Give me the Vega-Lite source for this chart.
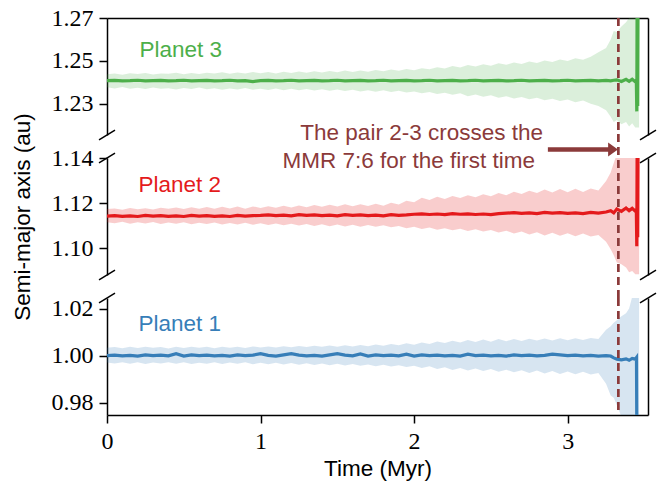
{
"$schema": "https://vega.github.io/schema/vega-lite/v6.json",
"background": "white",
"padding": {"left": 11, "top": 6, "right": 10, "bottom": 5},
"spacing": 23,
"bounds": "flush",
"config": {
 "view": {"stroke": null},
 "axis": {"labelFont": "Liberation Serif", "labelFontSize": 24, "labelColor": "#000", "tickColor": "#000", "domainColor": "#000", "tickWidth": 1.5, "domainWidth": 1.5, "tickSize": 8, "labelPadding": 6, "titleFont": "Liberation Sans", "titleFontSize": 22.5, "titleFontWeight": "normal", "titleColor": "#000", "grid": false, "labelOverlap": false, "labelFlush": false},
 "text": {"font": "Liberation Sans", "fontSize": 22.5}
},
"datasets": {
"g": [
{"t":0.00,"m":1.2408,"lo":1.2377,"hi":1.2438},{"t":0.05,"m":1.2409,"lo":1.2372,"hi":1.2441},{"t":0.10,"m":1.2407,"lo":1.2379,"hi":1.2436},{"t":0.15,"m":1.2408,"lo":1.2370,"hi":1.2443},{"t":0.20,"m":1.2410,"lo":1.2375,"hi":1.2439},{"t":0.25,"m":1.2407,"lo":1.2369,"hi":1.2444},{"t":0.30,"m":1.2408,"lo":1.2376,"hi":1.2437},{"t":0.35,"m":1.2409,"lo":1.2371,"hi":1.2442},{"t":0.40,"m":1.2407,"lo":1.2373,"hi":1.2440},{"t":0.45,"m":1.2408,"lo":1.2367,"hi":1.2445},{"t":0.50,"m":1.2410,"lo":1.2374,"hi":1.2438},{"t":0.55,"m":1.2407,"lo":1.2369,"hi":1.2444},{"t":0.60,"m":1.2408,"lo":1.2376,"hi":1.2439},{"t":0.65,"m":1.2409,"lo":1.2368,"hi":1.2445},{"t":0.70,"m":1.2407,"lo":1.2373,"hi":1.2441},{"t":0.75,"m":1.2408,"lo":1.2366,"hi":1.2447},{"t":0.80,"m":1.2410,"lo":1.2372,"hi":1.2440},{"t":0.85,"m":1.2407,"lo":1.2367,"hi":1.2446},{"t":0.90,"m":1.2408,"lo":1.2374,"hi":1.2442},{"t":0.95,"m":1.2404,"lo":1.2366,"hi":1.2448},
{"t":1.00,"m":1.2408,"lo":1.2371,"hi":1.2443},{"t":1.05,"m":1.2409,"lo":1.2365,"hi":1.2449},{"t":1.10,"m":1.2407,"lo":1.2372,"hi":1.2442},{"t":1.15,"m":1.2408,"lo":1.2364,"hi":1.2450},{"t":1.20,"m":1.2410,"lo":1.2370,"hi":1.2444},{"t":1.25,"m":1.2407,"lo":1.2363,"hi":1.2451},{"t":1.30,"m":1.2408,"lo":1.2369,"hi":1.2445},{"t":1.35,"m":1.2409,"lo":1.2362,"hi":1.2452},{"t":1.40,"m":1.2407,"lo":1.2368,"hi":1.2446},{"t":1.45,"m":1.2408,"lo":1.2361,"hi":1.2453},{"t":1.50,"m":1.2410,"lo":1.2367,"hi":1.2447},{"t":1.55,"m":1.2407,"lo":1.2360,"hi":1.2455},{"t":1.60,"m":1.2408,"lo":1.2366,"hi":1.2449},{"t":1.65,"m":1.2409,"lo":1.2358,"hi":1.2456},{"t":1.70,"m":1.2407,"lo":1.2364,"hi":1.2450},{"t":1.75,"m":1.2408,"lo":1.2357,"hi":1.2458},{"t":1.80,"m":1.2410,"lo":1.2363,"hi":1.2452},{"t":1.85,"m":1.2407,"lo":1.2355,"hi":1.2460},{"t":1.90,"m":1.2408,"lo":1.2361,"hi":1.2454},{"t":1.95,"m":1.2409,"lo":1.2353,"hi":1.2462},
{"t":2.00,"m":1.2407,"lo":1.2358,"hi":1.2457},{"t":2.05,"m":1.2408,"lo":1.2350,"hi":1.2466},{"t":2.10,"m":1.2410,"lo":1.2355,"hi":1.2461},{"t":2.15,"m":1.2407,"lo":1.2346,"hi":1.2471},{"t":2.20,"m":1.2408,"lo":1.2352,"hi":1.2465},{"t":2.25,"m":1.2409,"lo":1.2342,"hi":1.2476},{"t":2.30,"m":1.2407,"lo":1.2349,"hi":1.2470},{"t":2.35,"m":1.2408,"lo":1.2336,"hi":1.2481},{"t":2.40,"m":1.2410,"lo":1.2344,"hi":1.2474},{"t":2.45,"m":1.2407,"lo":1.2333,"hi":1.2485},{"t":2.50,"m":1.2408,"lo":1.2340,"hi":1.2478},{"t":2.55,"m":1.2409,"lo":1.2329,"hi":1.2489},{"t":2.60,"m":1.2407,"lo":1.2336,"hi":1.2482},{"t":2.65,"m":1.2408,"lo":1.2325,"hi":1.2493},{"t":2.70,"m":1.2410,"lo":1.2332,"hi":1.2486},{"t":2.75,"m":1.2407,"lo":1.2321,"hi":1.2497},{"t":2.80,"m":1.2408,"lo":1.2328,"hi":1.2490},{"t":2.85,"m":1.2409,"lo":1.2317,"hi":1.2502},{"t":2.90,"m":1.2407,"lo":1.2324,"hi":1.2495},{"t":2.95,"m":1.2408,"lo":1.2313,"hi":1.2507},
{"t":3.00,"m":1.2410,"lo":1.2320,"hi":1.2500},{"t":3.05,"m":1.2407,"lo":1.2308,"hi":1.2512},{"t":3.10,"m":1.2408,"lo":1.2316,"hi":1.2505},{"t":3.15,"m":1.2409,"lo":1.2300,"hi":1.2520},{"t":3.20,"m":1.2407,"lo":1.2290,"hi":1.2540},{"t":3.25,"m":1.2409,"lo":1.2270,"hi":1.2560},{"t":3.28,"m":1.2407,"lo":1.2240,"hi":1.2600},{"t":3.30,"m":1.2410,"lo":1.2215,"hi":1.2640},{"t":3.32,"m":1.2412,"lo":1.2225,"hi":1.2635},{"t":3.35,"m":1.2404,"lo":1.2205,"hi":1.2660},{"t":3.38,"m":1.2414,"lo":1.2215,"hi":1.2680},{"t":3.40,"m":1.2405,"lo":1.2195,"hi":1.2700},{"t":3.42,"m":1.2415,"lo":1.2210,"hi":1.2720},{"t":3.44,"m":1.2403,"lo":1.2190,"hi":1.2800},
{"t":3.447,"m":1.2410},{"t":3.450,"m":1.2265},{"t":3.453,"m":1.3000},{"t":3.456,"m":1.2290},{"t":3.459,"m":1.3000},{"t":3.465,"lo":1.2190,"hi":1.2800}
],
"r": [
{"t":0.00,"m":1.1144,"lo":1.1117,"hi":1.1175},{"t":0.05,"m":1.1146,"lo":1.1112,"hi":1.1178},{"t":0.10,"m":1.1143,"lo":1.1119,"hi":1.1172},{"t":0.15,"m":1.1145,"lo":1.1110,"hi":1.1180},{"t":0.20,"m":1.1142,"lo":1.1116,"hi":1.1174},{"t":0.25,"m":1.1147,"lo":1.1111,"hi":1.1179},{"t":0.30,"m":1.1144,"lo":1.1118,"hi":1.1173},{"t":0.35,"m":1.1146,"lo":1.1109,"hi":1.1181},{"t":0.40,"m":1.1143,"lo":1.1115,"hi":1.1176},{"t":0.45,"m":1.1145,"lo":1.1110,"hi":1.1182},{"t":0.50,"m":1.1142,"lo":1.1116,"hi":1.1175},{"t":0.55,"m":1.1147,"lo":1.1108,"hi":1.1183},{"t":0.60,"m":1.1144,"lo":1.1114,"hi":1.1177},{"t":0.65,"m":1.1146,"lo":1.1109,"hi":1.1184},{"t":0.70,"m":1.1143,"lo":1.1115,"hi":1.1176},{"t":0.75,"m":1.1145,"lo":1.1107,"hi":1.1185},{"t":0.80,"m":1.1142,"lo":1.1113,"hi":1.1178},{"t":0.85,"m":1.1147,"lo":1.1106,"hi":1.1186},{"t":0.90,"m":1.1144,"lo":1.1114,"hi":1.1177},{"t":0.95,"m":1.1146,"lo":1.1105,"hi":1.1187},
{"t":1.00,"m":1.1147,"lo":1.1112,"hi":1.1180},{"t":1.05,"m":1.1149,"lo":1.1104,"hi":1.1188},{"t":1.10,"m":1.1146,"lo":1.1111,"hi":1.1181},{"t":1.15,"m":1.1148,"lo":1.1103,"hi":1.1190},{"t":1.20,"m":1.1145,"lo":1.1110,"hi":1.1182},{"t":1.25,"m":1.1150,"lo":1.1102,"hi":1.1191},{"t":1.30,"m":1.1147,"lo":1.1109,"hi":1.1183},{"t":1.35,"m":1.1149,"lo":1.1100,"hi":1.1193},{"t":1.40,"m":1.1146,"lo":1.1108,"hi":1.1185},{"t":1.45,"m":1.1148,"lo":1.1099,"hi":1.1194},{"t":1.50,"m":1.1145,"lo":1.1106,"hi":1.1186},{"t":1.55,"m":1.1150,"lo":1.1098,"hi":1.1196},{"t":1.60,"m":1.1147,"lo":1.1105,"hi":1.1188},{"t":1.65,"m":1.1149,"lo":1.1097,"hi":1.1197},{"t":1.70,"m":1.1146,"lo":1.1104,"hi":1.1189},{"t":1.75,"m":1.1148,"lo":1.1096,"hi":1.1199},{"t":1.80,"m":1.1145,"lo":1.1103,"hi":1.1190},{"t":1.85,"m":1.1150,"lo":1.1094,"hi":1.1203},{"t":1.90,"m":1.1147,"lo":1.1100,"hi":1.1195},{"t":1.95,"m":1.1149,"lo":1.1090,"hi":1.1212},
{"t":2.00,"m":1.1152,"lo":1.1097,"hi":1.1205},{"t":2.05,"m":1.1154,"lo":1.1086,"hi":1.1225},{"t":2.10,"m":1.1151,"lo":1.1093,"hi":1.1215},{"t":2.15,"m":1.1153,"lo":1.1083,"hi":1.1230},{"t":2.20,"m":1.1150,"lo":1.1090,"hi":1.1220},{"t":2.25,"m":1.1155,"lo":1.1081,"hi":1.1233},{"t":2.30,"m":1.1152,"lo":1.1088,"hi":1.1224},{"t":2.35,"m":1.1154,"lo":1.1078,"hi":1.1237},{"t":2.40,"m":1.1151,"lo":1.1085,"hi":1.1228},{"t":2.45,"m":1.1153,"lo":1.1075,"hi":1.1241},{"t":2.50,"m":1.1150,"lo":1.1082,"hi":1.1232},{"t":2.55,"m":1.1155,"lo":1.1071,"hi":1.1246},{"t":2.60,"m":1.1157,"lo":1.1079,"hi":1.1236},{"t":2.65,"m":1.1159,"lo":1.1066,"hi":1.1252},{"t":2.70,"m":1.1156,"lo":1.1075,"hi":1.1242},{"t":2.75,"m":1.1158,"lo":1.1062,"hi":1.1256},{"t":2.80,"m":1.1155,"lo":1.1072,"hi":1.1247},{"t":2.85,"m":1.1160,"lo":1.1058,"hi":1.1262},{"t":2.90,"m":1.1157,"lo":1.1070,"hi":1.1249},{"t":2.95,"m":1.1159,"lo":1.1056,"hi":1.1264},
{"t":3.00,"m":1.1156,"lo":1.1068,"hi":1.1250},{"t":3.05,"m":1.1158,"lo":1.1054,"hi":1.1265},{"t":3.10,"m":1.1155,"lo":1.1067,"hi":1.1251},{"t":3.15,"m":1.1160,"lo":1.1053,"hi":1.1266},{"t":3.20,"m":1.1157,"lo":1.1060,"hi":1.1258},{"t":3.25,"m":1.1162,"lo":1.1030,"hi":1.1300},{"t":3.28,"m":1.1168,"lo":1.0996,"hi":1.1338},{"t":3.30,"m":1.1158,"lo":1.0970,"hi":1.1380},{"t":3.32,"m":1.1175,"lo":1.0938,"hi":1.1420},{"t":3.35,"m":1.1165,"lo":1.0930,"hi":1.1450},{"t":3.38,"m":1.1180,"lo":1.0915,"hi":1.1450},{"t":3.40,"m":1.1168,"lo":1.0894,"hi":1.1450},{"t":3.42,"m":1.1178,"lo":1.0900,"hi":1.1450},{"t":3.44,"m":1.1166,"lo":1.0885,"hi":1.1450},
{"t":3.447,"m":1.1172},{"t":3.450,"m":1.1010},{"t":3.453,"m":1.1600},{"t":3.456,"m":1.1050},{"t":3.459,"m":1.1600},{"t":3.465,"lo":1.0885,"hi":1.1450}
],
"b": [
{"t":0.00,"m":1.0000,"lo":0.9970,"hi":1.0033},{"t":0.05,"m":1.0002,"lo":0.9966,"hi":1.0036},{"t":0.10,"m":0.9999,"lo":0.9972,"hi":1.0031},{"t":0.15,"m":1.0001,"lo":0.9965,"hi":1.0037},{"t":0.20,"m":0.9998,"lo":0.9971,"hi":1.0032},{"t":0.25,"m":1.0003,"lo":0.9964,"hi":1.0038},{"t":0.30,"m":1.0000,"lo":0.9970,"hi":1.0033},{"t":0.35,"m":1.0002,"lo":0.9966,"hi":1.0036},{"t":0.40,"m":0.9999,"lo":0.9972,"hi":1.0030},{"t":0.45,"m":1.0008,"lo":0.9965,"hi":1.0037},{"t":0.50,"m":0.9998,"lo":0.9971,"hi":1.0032},{"t":0.55,"m":1.0003,"lo":0.9964,"hi":1.0038},{"t":0.60,"m":1.0000,"lo":0.9969,"hi":1.0033},{"t":0.65,"m":1.0002,"lo":0.9965,"hi":1.0037},{"t":0.70,"m":0.9999,"lo":0.9971,"hi":1.0031},{"t":0.75,"m":1.0001,"lo":0.9964,"hi":1.0038},{"t":0.80,"m":0.9998,"lo":0.9970,"hi":1.0033},{"t":0.85,"m":1.0003,"lo":0.9965,"hi":1.0037},{"t":0.90,"m":1.0000,"lo":0.9971,"hi":1.0032},{"t":0.95,"m":1.0002,"lo":0.9963,"hi":1.0039},
{"t":1.00,"m":1.0008,"lo":0.9969,"hi":1.0034},{"t":1.05,"m":1.0001,"lo":0.9963,"hi":1.0039},{"t":1.10,"m":0.9998,"lo":0.9969,"hi":1.0034},{"t":1.15,"m":1.0003,"lo":0.9962,"hi":1.0040},{"t":1.20,"m":1.0008,"lo":0.9968,"hi":1.0035},{"t":1.25,"m":1.0002,"lo":0.9961,"hi":1.0041},{"t":1.30,"m":0.9999,"lo":0.9967,"hi":1.0036},{"t":1.35,"m":1.0001,"lo":0.9960,"hi":1.0042},{"t":1.40,"m":0.9998,"lo":0.9966,"hi":1.0037},{"t":1.45,"m":1.0003,"lo":0.9959,"hi":1.0043},{"t":1.50,"m":1.0008,"lo":0.9965,"hi":1.0038},{"t":1.55,"m":1.0002,"lo":0.9958,"hi":1.0044},{"t":1.60,"m":0.9999,"lo":0.9964,"hi":1.0039},{"t":1.65,"m":1.0007,"lo":0.9957,"hi":1.0045},{"t":1.70,"m":0.9998,"lo":0.9962,"hi":1.0040},{"t":1.75,"m":1.0003,"lo":0.9955,"hi":1.0047},{"t":1.80,"m":1.0000,"lo":0.9961,"hi":1.0042},{"t":1.85,"m":1.0002,"lo":0.9953,"hi":1.0049},{"t":1.90,"m":0.9999,"lo":0.9959,"hi":1.0044},{"t":1.95,"m":1.0006,"lo":0.9951,"hi":1.0052},
{"t":2.00,"m":0.9998,"lo":0.9957,"hi":1.0046},{"t":2.05,"m":1.0003,"lo":0.9947,"hi":1.0056},{"t":2.10,"m":1.0000,"lo":0.9954,"hi":1.0049},{"t":2.15,"m":1.0002,"lo":0.9943,"hi":1.0060},{"t":2.20,"m":0.9999,"lo":0.9950,"hi":1.0053},{"t":2.25,"m":1.0001,"lo":0.9939,"hi":1.0063},{"t":2.30,"m":0.9998,"lo":0.9947,"hi":1.0056},{"t":2.35,"m":1.0006,"lo":0.9936,"hi":1.0066},{"t":2.40,"m":1.0000,"lo":0.9945,"hi":1.0058},{"t":2.45,"m":1.0002,"lo":0.9934,"hi":1.0068},{"t":2.50,"m":0.9999,"lo":0.9943,"hi":1.0059},{"t":2.55,"m":1.0001,"lo":0.9931,"hi":1.0070},{"t":2.60,"m":0.9998,"lo":0.9940,"hi":1.0061},{"t":2.65,"m":1.0003,"lo":0.9929,"hi":1.0071},{"t":2.70,"m":1.0000,"lo":0.9938,"hi":1.0062},{"t":2.75,"m":1.0002,"lo":0.9926,"hi":1.0072},{"t":2.80,"m":0.9999,"lo":0.9936,"hi":1.0064},{"t":2.85,"m":1.0001,"lo":0.9924,"hi":1.0073},{"t":2.90,"m":1.0006,"lo":0.9934,"hi":1.0064},{"t":2.95,"m":1.0003,"lo":0.9921,"hi":1.0074},
{"t":3.00,"m":1.0000,"lo":0.9932,"hi":1.0065},{"t":3.05,"m":1.0002,"lo":0.9920,"hi":1.0074},{"t":3.10,"m":0.9999,"lo":0.9931,"hi":1.0066},{"t":3.15,"m":1.0001,"lo":0.9919,"hi":1.0075},{"t":3.20,"m":0.9998,"lo":0.9926,"hi":1.0070},{"t":3.25,"m":1.0000,"lo":0.9880,"hi":1.0110},{"t":3.28,"m":0.9998,"lo":0.9830,"hi":1.0125},{"t":3.30,"m":0.9990,"lo":0.9820,"hi":1.0140},{"t":3.32,"m":0.9985,"lo":0.9790,"hi":1.0150},{"t":3.35,"m":0.9982,"lo":0.9740,"hi":1.0167},{"t":3.38,"m":0.9986,"lo":0.9700,"hi":1.0180},{"t":3.40,"m":0.9980,"lo":0.9700,"hi":1.0200},{"t":3.42,"m":0.9988,"lo":0.9700,"hi":1.0250},{"t":3.44,"m":0.9985,"lo":0.9700,"hi":1.0260},
{"t":3.448,"m":0.9992},{"t":3.452,"m":0.9400},{"t":3.465,"lo":0.9700,"hi":1.0260}
]
},
"vconcat": [
{
 "width": 541, "height": 117,
 "data": {"name": "g"},
 "resolve": {"axis": {"x": "independent", "y": "independent"}},
 "layer": [
  {"mark": {"type": "area", "color": "#4daf4a", "fillOpacity": 0.2, "clip": true, "invalid": "filter"},
   "encoding": {
    "x": {"field": "t", "type": "quantitative", "scale": {"domain": [0, 3.523], "nice": false, "zero": false}, "axis": null},
    "y": {"field": "lo", "type": "quantitative", "scale": {"domain": [1.2155, 1.27], "nice": false, "zero": false}, "axis": {"values": [1.23, 1.25, 1.27], "format": ".2f", "title": null}},
    "y2": {"field": "hi"}}},
  {"mark": {"type": "line", "color": "#4daf4a", "strokeWidth": 3.2, "clip": true, "invalid": "filter"},
   "encoding": {
    "x": {"field": "t", "type": "quantitative", "axis": {"orient": "top", "labels": false, "ticks": false, "title": null}},
    "y": {"field": "m", "type": "quantitative", "axis": {"orient": "right", "labels": false, "ticks": false, "title": null}}}},
  {"data": {"values": [{}]},
   "mark": {"type": "rule", "color": "#8b3a3a", "strokeWidth": 2.7, "strokeDash": [8, 5]},
   "encoding": {"x": {"datum": 3.33, "type": "quantitative", "axis": null}, "y": {"datum": 1.27, "type": "quantitative", "axis": null}, "y2": {"datum": 1.2155}}},
  {"data": {"values": [{}]},
   "mark": {"type": "text", "text": "Planet 3", "color": "#4daf4a", "align": "left", "baseline": "middle"},
   "encoding": {"x": {"datum": 0.212, "type": "quantitative", "axis": null}, "y": {"datum": 1.2549, "type": "quantitative", "axis": null}}},
  {"data": {"values": [{}]},
   "mark": {"type": "point", "shape": "M -1 0.6 L 1 -0.6", "filled": false, "stroke": "#000", "strokeWidth": 1.5, "size": 256, "opacity": 1, "clip": false},
   "encoding": {"x": {"datum": 0, "type": "quantitative", "axis": null}, "y": {"datum": 1.2155, "type": "quantitative", "axis": null}}},
  {"data": {"values": [{}]},
   "mark": {"type": "point", "shape": "M -1 0.6 L 1 -0.6", "filled": false, "stroke": "#000", "strokeWidth": 1.5, "size": 256, "opacity": 1, "clip": false},
   "encoding": {"x": {"datum": 3.523, "type": "quantitative", "axis": null}, "y": {"datum": 1.2155, "type": "quantitative", "axis": null}}}
 ]
},
{
 "width": 541, "height": 117,
 "data": {"name": "r"},
 "resolve": {"axis": {"x": "independent", "y": "independent"}},
 "layer": [
  {"mark": {"type": "area", "color": "#e41a1c", "fillOpacity": 0.22, "clip": true, "invalid": "filter"},
   "encoding": {
    "x": {"field": "t", "type": "quantitative", "scale": {"domain": [0, 3.523], "nice": false, "zero": false}, "axis": null},
    "y": {"field": "lo", "type": "quantitative", "scale": {"domain": [1.0882, 1.1402], "nice": false, "zero": false}, "axis": {"values": [1.10, 1.12, 1.14], "format": ".2f", "title": "Semi-major axis (au)", "titlePadding": 17}},
    "y2": {"field": "hi"}}},
  {"mark": {"type": "line", "color": "#e41a1c", "strokeWidth": 3.2, "clip": true, "invalid": "filter"},
   "encoding": {
    "x": {"field": "t", "type": "quantitative", "axis": null},
    "y": {"field": "m", "type": "quantitative", "axis": {"orient": "right", "labels": false, "ticks": false, "title": null}}}},
  {"data": {"values": [{}]},
   "mark": {"type": "rule", "color": "#8b3a3a", "strokeWidth": 2.7, "strokeDash": [8, 5]},
   "encoding": {"x": {"datum": 3.33, "type": "quantitative", "axis": null}, "y": {"datum": 1.1509, "type": "quantitative", "axis": null}, "y2": {"datum": 1.0775}}},
  {"data": {"values": [{}]},
   "mark": {"type": "text", "text": "Planet 2", "color": "#e41a1c", "align": "left", "baseline": "middle"},
   "encoding": {"x": {"datum": 0.205, "type": "quantitative", "axis": null}, "y": {"datum": 1.128, "type": "quantitative", "axis": null}}},
  {"data": {"values": [{}]},
   "mark": {"type": "text", "text": "The pair 2-3 crosses the", "color": "#8b3a3a", "align": "right", "baseline": "middle"},
   "encoding": {"x": {"datum": 2.839, "type": "quantitative", "axis": null}, "y": {"datum": 1.1515, "type": "quantitative", "axis": null}}},
  {"data": {"values": [{}]},
   "mark": {"type": "text", "text": "MMR 7:6 for the first time", "color": "#8b3a3a", "align": "right", "baseline": "middle"},
   "encoding": {"x": {"datum": 2.787, "type": "quantitative", "axis": null}, "y": {"datum": 1.1388, "type": "quantitative", "axis": null}}},
  {"data": {"values": [{}]},
   "mark": {"type": "rule", "color": "#8b3a3a", "strokeWidth": 4.5},
   "encoding": {"x": {"datum": 2.871, "type": "quantitative", "axis": null}, "x2": {"datum": 3.27}, "y": {"datum": 1.144, "type": "quantitative", "axis": null}}},
  {"data": {"values": [{}]},
   "mark": {"type": "point", "shape": "M -0.7 -1 L 0.7 0 L -0.7 1 Z", "filled": true, "color": "#8b3a3a", "size": 196, "opacity": 1, "clip": false},
   "encoding": {"x": {"datum": 3.2953, "type": "quantitative", "axis": null}, "y": {"datum": 1.144, "type": "quantitative", "axis": null}}},
  {"data": {"values": [{}]},
   "mark": {"type": "point", "shape": "M -1 0.6 L 1 -0.6", "filled": false, "stroke": "#000", "strokeWidth": 1.5, "size": 256, "opacity": 1, "clip": false},
   "encoding": {"x": {"datum": 0, "type": "quantitative", "axis": null}, "y": {"datum": 1.1402, "type": "quantitative", "axis": null}}},
  {"data": {"values": [{}]},
   "mark": {"type": "point", "shape": "M -1 0.6 L 1 -0.6", "filled": false, "stroke": "#000", "strokeWidth": 1.5, "size": 256, "opacity": 1, "clip": false},
   "encoding": {"x": {"datum": 3.523, "type": "quantitative", "axis": null}, "y": {"datum": 1.1402, "type": "quantitative", "axis": null}}},
  {"data": {"values": [{}]},
   "mark": {"type": "point", "shape": "M -1 0.6 L 1 -0.6", "filled": false, "stroke": "#000", "strokeWidth": 1.5, "size": 256, "opacity": 1, "clip": false},
   "encoding": {"x": {"datum": 0, "type": "quantitative", "axis": null}, "y": {"datum": 1.0882, "type": "quantitative", "axis": null}}},
  {"data": {"values": [{}]},
   "mark": {"type": "point", "shape": "M -1 0.6 L 1 -0.6", "filled": false, "stroke": "#000", "strokeWidth": 1.5, "size": 256, "opacity": 1, "clip": false},
   "encoding": {"x": {"datum": 3.523, "type": "quantitative", "axis": null}, "y": {"datum": 1.0882, "type": "quantitative", "axis": null}}}
 ]
},
{
 "width": 541, "height": 117,
 "data": {"name": "b"},
 "resolve": {"axis": {"x": "independent", "y": "independent"}},
 "layer": [
  {"mark": {"type": "area", "color": "#377eb8", "fillOpacity": 0.2, "clip": true, "invalid": "filter"},
   "encoding": {
    "x": {"field": "t", "type": "quantitative", "scale": {"domain": [0, 3.523], "nice": false, "zero": false}, "axis": {"values": [0, 1, 2, 3], "format": "d", "title": "Time (Myr)", "titlePadding": 4}},
    "y": {"field": "lo", "type": "quantitative", "scale": {"domain": [0.9747, 1.0245], "nice": false, "zero": false}, "axis": {"values": [0.98, 1.00, 1.02], "format": ".2f", "title": null}},
    "y2": {"field": "hi"}}},
  {"mark": {"type": "line", "color": "#377eb8", "strokeWidth": 3.2, "clip": true, "invalid": "filter"},
   "encoding": {
    "x": {"field": "t", "type": "quantitative", "axis": null},
    "y": {"field": "m", "type": "quantitative", "axis": {"orient": "right", "labels": false, "ticks": false, "title": null}}}},
  {"data": {"values": [{}]},
   "mark": {"type": "rule", "color": "#8b3a3a", "strokeWidth": 2.7, "strokeDash": [8, 5]},
   "encoding": {"x": {"datum": 3.33, "type": "quantitative", "axis": null}, "y": {"datum": 1.0245, "type": "quantitative", "axis": null}, "y2": {"datum": 0.9747}}},
  {"data": {"values": [{}]},
   "mark": {"type": "text", "text": "Planet 1", "color": "#377eb8", "align": "left", "baseline": "middle"},
   "encoding": {"x": {"datum": 0.205, "type": "quantitative", "axis": null}, "y": {"datum": 1.0136, "type": "quantitative", "axis": null}}},
  {"data": {"values": [{}]},
   "mark": {"type": "point", "shape": "M -1 0.6 L 1 -0.6", "filled": false, "stroke": "#000", "strokeWidth": 1.5, "size": 256, "opacity": 1, "clip": false},
   "encoding": {"x": {"datum": 0, "type": "quantitative", "axis": null}, "y": {"datum": 1.0245, "type": "quantitative", "axis": null}}},
  {"data": {"values": [{}]},
   "mark": {"type": "point", "shape": "M -1 0.6 L 1 -0.6", "filled": false, "stroke": "#000", "strokeWidth": 1.5, "size": 256, "opacity": 1, "clip": false},
   "encoding": {"x": {"datum": 3.523, "type": "quantitative", "axis": null}, "y": {"datum": 1.0245, "type": "quantitative", "axis": null}}}
 ]
}
]
}
